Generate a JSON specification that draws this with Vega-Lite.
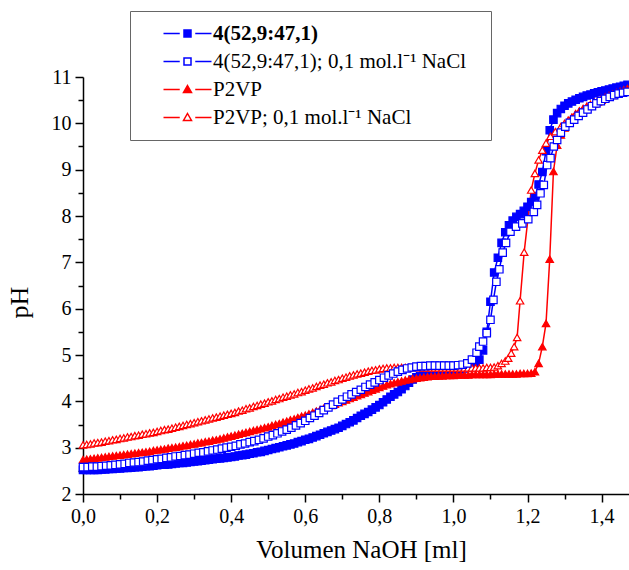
{
"$schema": "https://vega.github.io/schema/vega-lite/v6.json",
"width": 546, "height": 417,
"autosize": {"type": "none"},
"padding": {"left": 83, "top": 77, "right": 0, "bottom": 76},
"background": "white",
"config": {"view": {"stroke": null}, "font": "Liberation Serif"},
"data": {"values": [
{"s":"A","x":0,"y":2.52},{"s":"A","x":0.01,"y":2.52},{"s":"A","x":0.02,"y":2.52},{"s":"A","x":0.03,"y":2.52},{"s":"A","x":0.04,"y":2.52},{"s":"A","x":0.05,"y":2.53},{"s":"A","x":0.06,"y":2.53},{"s":"A","x":0.07,"y":2.54},{"s":"A","x":0.08,"y":2.54},{"s":"A","x":0.09,"y":2.55},
{"s":"A","x":0.1,"y":2.55},{"s":"A","x":0.11,"y":2.56},{"s":"A","x":0.12,"y":2.56},{"s":"A","x":0.13,"y":2.57},{"s":"A","x":0.14,"y":2.58},{"s":"A","x":0.15,"y":2.58},{"s":"A","x":0.16,"y":2.59},{"s":"A","x":0.17,"y":2.6},{"s":"A","x":0.18,"y":2.6},{"s":"A","x":0.19,"y":2.61},
{"s":"A","x":0.2,"y":2.62},{"s":"A","x":0.21,"y":2.63},{"s":"A","x":0.22,"y":2.63},{"s":"A","x":0.23,"y":2.64},{"s":"A","x":0.24,"y":2.65},{"s":"A","x":0.25,"y":2.66},{"s":"A","x":0.26,"y":2.67},{"s":"A","x":0.27,"y":2.67},{"s":"A","x":0.28,"y":2.68},{"s":"A","x":0.29,"y":2.69},
{"s":"A","x":0.3,"y":2.7},{"s":"A","x":0.31,"y":2.71},{"s":"A","x":0.32,"y":2.72},{"s":"A","x":0.33,"y":2.73},{"s":"A","x":0.34,"y":2.74},{"s":"A","x":0.35,"y":2.75},{"s":"A","x":0.36,"y":2.76},{"s":"A","x":0.37,"y":2.77},{"s":"A","x":0.38,"y":2.78},{"s":"A","x":0.39,"y":2.79},
{"s":"A","x":0.4,"y":2.8},{"s":"A","x":0.41,"y":2.81},{"s":"A","x":0.42,"y":2.83},{"s":"A","x":0.43,"y":2.84},{"s":"A","x":0.44,"y":2.85},{"s":"A","x":0.45,"y":2.87},{"s":"A","x":0.46,"y":2.88},{"s":"A","x":0.47,"y":2.9},{"s":"A","x":0.48,"y":2.91},{"s":"A","x":0.49,"y":2.93},
{"s":"A","x":0.5,"y":2.95},{"s":"A","x":0.51,"y":2.97},{"s":"A","x":0.52,"y":2.99},{"s":"A","x":0.53,"y":3.01},{"s":"A","x":0.54,"y":3.03},{"s":"A","x":0.55,"y":3.05},{"s":"A","x":0.56,"y":3.07},{"s":"A","x":0.57,"y":3.09},{"s":"A","x":0.58,"y":3.12},{"s":"A","x":0.59,"y":3.14},
{"s":"A","x":0.6,"y":3.17},{"s":"A","x":0.61,"y":3.19},{"s":"A","x":0.62,"y":3.22},{"s":"A","x":0.63,"y":3.25},{"s":"A","x":0.64,"y":3.28},{"s":"A","x":0.65,"y":3.31},{"s":"A","x":0.66,"y":3.34},{"s":"A","x":0.67,"y":3.37},{"s":"A","x":0.68,"y":3.4},{"s":"A","x":0.69,"y":3.43},
{"s":"A","x":0.7,"y":3.47},{"s":"A","x":0.71,"y":3.51},{"s":"A","x":0.72,"y":3.55},{"s":"A","x":0.73,"y":3.59},{"s":"A","x":0.74,"y":3.64},{"s":"A","x":0.75,"y":3.69},{"s":"A","x":0.76,"y":3.73},{"s":"A","x":0.77,"y":3.77},{"s":"A","x":0.78,"y":3.82},{"s":"A","x":0.79,"y":3.87},
{"s":"A","x":0.8,"y":3.92},{"s":"A","x":0.81,"y":3.98},{"s":"A","x":0.82,"y":4.04},{"s":"A","x":0.83,"y":4.1},{"s":"A","x":0.84,"y":4.15},{"s":"A","x":0.85,"y":4.2},{"s":"A","x":0.86,"y":4.26},{"s":"A","x":0.87,"y":4.33},{"s":"A","x":0.88,"y":4.4},{"s":"A","x":0.89,"y":4.47},
{"s":"A","x":0.9,"y":4.52},{"s":"A","x":0.91,"y":4.55},{"s":"A","x":0.92,"y":4.57},{"s":"A","x":0.93,"y":4.59},{"s":"A","x":0.94,"y":4.6},{"s":"A","x":0.95,"y":4.61},{"s":"A","x":0.96,"y":4.62},{"s":"A","x":0.97,"y":4.63},{"s":"A","x":0.98,"y":4.64},{"s":"A","x":0.99,"y":4.65},
{"s":"A","x":1,"y":4.66},{"s":"A","x":1.01,"y":4.67},{"s":"A","x":1.02,"y":4.69},{"s":"A","x":1.03,"y":4.71},{"s":"A","x":1.04,"y":4.73},{"s":"A","x":1.05,"y":4.77},{"s":"A","x":1.06,"y":4.82},{"s":"A","x":1.07,"y":4.9},{"s":"A","x":1.08,"y":5.1},{"s":"A","x":1.09,"y":5.5},
{"s":"A","x":1.1,"y":6.15},{"s":"A","x":1.11,"y":6.78},{"s":"A","x":1.12,"y":7.1},{"s":"A","x":1.13,"y":7.42},{"s":"A","x":1.14,"y":7.65},{"s":"A","x":1.15,"y":7.8},{"s":"A","x":1.16,"y":7.9},{"s":"A","x":1.17,"y":7.98},{"s":"A","x":1.18,"y":8.04},{"s":"A","x":1.19,"y":8.11},
{"s":"A","x":1.2,"y":8.2},{"s":"A","x":1.21,"y":8.3},{"s":"A","x":1.22,"y":8.42},{"s":"A","x":1.23,"y":8.68},{"s":"A","x":1.24,"y":8.95},{"s":"A","x":1.25,"y":9.4},{"s":"A","x":1.26,"y":9.85},{"s":"A","x":1.27,"y":10.08},{"s":"A","x":1.28,"y":10.22},{"s":"A","x":1.29,"y":10.31},
{"s":"A","x":1.3,"y":10.38},{"s":"A","x":1.31,"y":10.43},{"s":"A","x":1.32,"y":10.47},{"s":"A","x":1.33,"y":10.51},{"s":"A","x":1.34,"y":10.54},{"s":"A","x":1.35,"y":10.57},{"s":"A","x":1.36,"y":10.6},{"s":"A","x":1.37,"y":10.62},{"s":"A","x":1.38,"y":10.65},{"s":"A","x":1.39,"y":10.67},
{"s":"A","x":1.4,"y":10.69},{"s":"A","x":1.41,"y":10.71},{"s":"A","x":1.42,"y":10.73},{"s":"A","x":1.43,"y":10.75},{"s":"A","x":1.44,"y":10.77},{"s":"A","x":1.45,"y":10.79},{"s":"A","x":1.46,"y":10.81},{"s":"A","x":1.47,"y":10.83},
{"s":"C","x":0,"y":2.74},{"s":"C","x":0.01,"y":2.75},{"s":"C","x":0.02,"y":2.76},{"s":"C","x":0.03,"y":2.77},{"s":"C","x":0.04,"y":2.78},{"s":"C","x":0.05,"y":2.79},{"s":"C","x":0.06,"y":2.8},{"s":"C","x":0.07,"y":2.81},{"s":"C","x":0.08,"y":2.82},{"s":"C","x":0.09,"y":2.83},
{"s":"C","x":0.1,"y":2.84},{"s":"C","x":0.11,"y":2.85},{"s":"C","x":0.12,"y":2.86},{"s":"C","x":0.13,"y":2.87},{"s":"C","x":0.14,"y":2.88},{"s":"C","x":0.15,"y":2.89},{"s":"C","x":0.16,"y":2.9},{"s":"C","x":0.17,"y":2.91},{"s":"C","x":0.18,"y":2.92},{"s":"C","x":0.19,"y":2.94},
{"s":"C","x":0.2,"y":2.95},{"s":"C","x":0.21,"y":2.96},{"s":"C","x":0.22,"y":2.97},{"s":"C","x":0.23,"y":2.99},{"s":"C","x":0.24,"y":3},{"s":"C","x":0.25,"y":3.01},{"s":"C","x":0.26,"y":3.02},{"s":"C","x":0.27,"y":3.04},{"s":"C","x":0.28,"y":3.05},{"s":"C","x":0.29,"y":3.07},
{"s":"C","x":0.3,"y":3.08},{"s":"C","x":0.31,"y":3.1},{"s":"C","x":0.32,"y":3.11},{"s":"C","x":0.33,"y":3.13},{"s":"C","x":0.34,"y":3.14},{"s":"C","x":0.35,"y":3.16},{"s":"C","x":0.36,"y":3.17},{"s":"C","x":0.37,"y":3.19},{"s":"C","x":0.38,"y":3.21},{"s":"C","x":0.39,"y":3.23},
{"s":"C","x":0.4,"y":3.25},{"s":"C","x":0.41,"y":3.27},{"s":"C","x":0.42,"y":3.29},{"s":"C","x":0.43,"y":3.31},{"s":"C","x":0.44,"y":3.33},{"s":"C","x":0.45,"y":3.35},{"s":"C","x":0.46,"y":3.37},{"s":"C","x":0.47,"y":3.39},{"s":"C","x":0.48,"y":3.41},{"s":"C","x":0.49,"y":3.43},
{"s":"C","x":0.5,"y":3.45},{"s":"C","x":0.51,"y":3.48},{"s":"C","x":0.52,"y":3.5},{"s":"C","x":0.53,"y":3.52},{"s":"C","x":0.54,"y":3.55},{"s":"C","x":0.55,"y":3.57},{"s":"C","x":0.56,"y":3.6},{"s":"C","x":0.57,"y":3.62},{"s":"C","x":0.58,"y":3.65},{"s":"C","x":0.59,"y":3.68},
{"s":"C","x":0.6,"y":3.7},{"s":"C","x":0.61,"y":3.73},{"s":"C","x":0.62,"y":3.76},{"s":"C","x":0.63,"y":3.79},{"s":"C","x":0.64,"y":3.82},{"s":"C","x":0.65,"y":3.85},{"s":"C","x":0.66,"y":3.88},{"s":"C","x":0.67,"y":3.91},{"s":"C","x":0.68,"y":3.94},{"s":"C","x":0.69,"y":3.97},
{"s":"C","x":0.7,"y":4},{"s":"C","x":0.71,"y":4.03},{"s":"C","x":0.72,"y":4.06},{"s":"C","x":0.73,"y":4.09},{"s":"C","x":0.74,"y":4.12},{"s":"C","x":0.75,"y":4.15},{"s":"C","x":0.76,"y":4.18},{"s":"C","x":0.77,"y":4.21},{"s":"C","x":0.78,"y":4.24},{"s":"C","x":0.79,"y":4.27},
{"s":"C","x":0.8,"y":4.3},{"s":"C","x":0.81,"y":4.33},{"s":"C","x":0.82,"y":4.36},{"s":"C","x":0.83,"y":4.38},{"s":"C","x":0.84,"y":4.4},{"s":"C","x":0.85,"y":4.42},{"s":"C","x":0.86,"y":4.44},{"s":"C","x":0.87,"y":4.46},{"s":"C","x":0.88,"y":4.47},{"s":"C","x":0.89,"y":4.49},
{"s":"C","x":0.9,"y":4.5},{"s":"C","x":0.91,"y":4.51},{"s":"C","x":0.92,"y":4.52},{"s":"C","x":0.93,"y":4.53},{"s":"C","x":0.94,"y":4.54},{"s":"C","x":0.95,"y":4.54},{"s":"C","x":0.96,"y":4.55},{"s":"C","x":0.97,"y":4.55},{"s":"C","x":0.98,"y":4.56},{"s":"C","x":0.99,"y":4.56},
{"s":"C","x":1,"y":4.56},{"s":"C","x":1.01,"y":4.57},{"s":"C","x":1.02,"y":4.57},{"s":"C","x":1.03,"y":4.57},{"s":"C","x":1.04,"y":4.57},{"s":"C","x":1.05,"y":4.58},{"s":"C","x":1.06,"y":4.58},{"s":"C","x":1.07,"y":4.58},{"s":"C","x":1.08,"y":4.58},{"s":"C","x":1.09,"y":4.58},
{"s":"C","x":1.1,"y":4.58},{"s":"C","x":1.11,"y":4.59},{"s":"C","x":1.12,"y":4.59},{"s":"C","x":1.13,"y":4.59},{"s":"C","x":1.14,"y":4.59},{"s":"C","x":1.15,"y":4.59},{"s":"C","x":1.16,"y":4.59},{"s":"C","x":1.17,"y":4.59},{"s":"C","x":1.18,"y":4.6},{"s":"C","x":1.19,"y":4.6},
{"s":"C","x":1.2,"y":4.6},{"s":"C","x":1.21,"y":4.61},{"s":"C","x":1.22,"y":4.64},{"s":"C","x":1.23,"y":4.82},{"s":"C","x":1.24,"y":5.18},{"s":"C","x":1.25,"y":5.68},{"s":"C","x":1.26,"y":7.07},{"s":"C","x":1.27,"y":8.96},{"s":"C","x":1.28,"y":9.53},{"s":"C","x":1.29,"y":9.75},
{"s":"C","x":1.3,"y":9.9},{"s":"C","x":1.31,"y":10.03},{"s":"C","x":1.32,"y":10.13},{"s":"C","x":1.33,"y":10.21},{"s":"C","x":1.34,"y":10.27},{"s":"C","x":1.35,"y":10.32},{"s":"C","x":1.36,"y":10.37},{"s":"C","x":1.37,"y":10.41},{"s":"C","x":1.38,"y":10.45},{"s":"C","x":1.39,"y":10.49},
{"s":"C","x":1.4,"y":10.53},{"s":"C","x":1.41,"y":10.57},{"s":"C","x":1.42,"y":10.6},{"s":"C","x":1.43,"y":10.63},{"s":"C","x":1.44,"y":10.66},{"s":"C","x":1.45,"y":10.69},{"s":"C","x":1.46,"y":10.72},{"s":"C","x":1.47,"y":10.75},
{"s":"D","x":0,"y":3.06},{"s":"D","x":0.01,"y":3.07},{"s":"D","x":0.02,"y":3.08},{"s":"D","x":0.03,"y":3.1},{"s":"D","x":0.04,"y":3.11},{"s":"D","x":0.05,"y":3.12},{"s":"D","x":0.06,"y":3.14},{"s":"D","x":0.07,"y":3.15},{"s":"D","x":0.08,"y":3.17},{"s":"D","x":0.09,"y":3.18},
{"s":"D","x":0.1,"y":3.2},{"s":"D","x":0.11,"y":3.21},{"s":"D","x":0.12,"y":3.23},{"s":"D","x":0.13,"y":3.24},{"s":"D","x":0.14,"y":3.26},{"s":"D","x":0.15,"y":3.27},{"s":"D","x":0.16,"y":3.29},{"s":"D","x":0.17,"y":3.3},{"s":"D","x":0.18,"y":3.32},{"s":"D","x":0.19,"y":3.33},
{"s":"D","x":0.2,"y":3.35},{"s":"D","x":0.21,"y":3.37},{"s":"D","x":0.22,"y":3.39},{"s":"D","x":0.23,"y":3.4},{"s":"D","x":0.24,"y":3.42},{"s":"D","x":0.25,"y":3.44},{"s":"D","x":0.26,"y":3.46},{"s":"D","x":0.27,"y":3.48},{"s":"D","x":0.28,"y":3.5},{"s":"D","x":0.29,"y":3.52},
{"s":"D","x":0.3,"y":3.54},{"s":"D","x":0.31,"y":3.56},{"s":"D","x":0.32,"y":3.58},{"s":"D","x":0.33,"y":3.6},{"s":"D","x":0.34,"y":3.62},{"s":"D","x":0.35,"y":3.64},{"s":"D","x":0.36,"y":3.66},{"s":"D","x":0.37,"y":3.68},{"s":"D","x":0.38,"y":3.7},{"s":"D","x":0.39,"y":3.72},
{"s":"D","x":0.4,"y":3.74},{"s":"D","x":0.41,"y":3.76},{"s":"D","x":0.42,"y":3.79},{"s":"D","x":0.43,"y":3.81},{"s":"D","x":0.44,"y":3.84},{"s":"D","x":0.45,"y":3.86},{"s":"D","x":0.46,"y":3.89},{"s":"D","x":0.47,"y":3.91},{"s":"D","x":0.48,"y":3.94},{"s":"D","x":0.49,"y":3.96},
{"s":"D","x":0.5,"y":3.99},{"s":"D","x":0.51,"y":4.01},{"s":"D","x":0.52,"y":4.04},{"s":"D","x":0.53,"y":4.06},{"s":"D","x":0.54,"y":4.09},{"s":"D","x":0.55,"y":4.11},{"s":"D","x":0.56,"y":4.14},{"s":"D","x":0.57,"y":4.16},{"s":"D","x":0.58,"y":4.19},{"s":"D","x":0.59,"y":4.21},
{"s":"D","x":0.6,"y":4.24},{"s":"D","x":0.61,"y":4.27},{"s":"D","x":0.62,"y":4.29},{"s":"D","x":0.63,"y":4.32},{"s":"D","x":0.64,"y":4.35},{"s":"D","x":0.65,"y":4.37},{"s":"D","x":0.66,"y":4.4},{"s":"D","x":0.67,"y":4.42},{"s":"D","x":0.68,"y":4.45},{"s":"D","x":0.69,"y":4.47},
{"s":"D","x":0.7,"y":4.5},{"s":"D","x":0.71,"y":4.52},{"s":"D","x":0.72,"y":4.55},{"s":"D","x":0.73,"y":4.57},{"s":"D","x":0.74,"y":4.59},{"s":"D","x":0.75,"y":4.61},{"s":"D","x":0.76,"y":4.63},{"s":"D","x":0.77,"y":4.65},{"s":"D","x":0.78,"y":4.67},{"s":"D","x":0.79,"y":4.68},
{"s":"D","x":0.8,"y":4.7},{"s":"D","x":0.81,"y":4.71},{"s":"D","x":0.82,"y":4.72},{"s":"D","x":0.83,"y":4.72},{"s":"D","x":0.84,"y":4.73},{"s":"D","x":0.85,"y":4.73},{"s":"D","x":0.86,"y":4.73},{"s":"D","x":0.87,"y":4.73},{"s":"D","x":0.88,"y":4.73},{"s":"D","x":0.89,"y":4.73},
{"s":"D","x":0.9,"y":4.73},{"s":"D","x":0.91,"y":4.73},{"s":"D","x":0.92,"y":4.72},{"s":"D","x":0.93,"y":4.72},{"s":"D","x":0.94,"y":4.72},{"s":"D","x":0.95,"y":4.72},{"s":"D","x":0.96,"y":4.72},{"s":"D","x":0.97,"y":4.72},{"s":"D","x":0.98,"y":4.72},{"s":"D","x":0.99,"y":4.72},
{"s":"D","x":1,"y":4.72},{"s":"D","x":1.01,"y":4.72},{"s":"D","x":1.02,"y":4.72},{"s":"D","x":1.03,"y":4.72},{"s":"D","x":1.04,"y":4.72},{"s":"D","x":1.05,"y":4.72},{"s":"D","x":1.06,"y":4.72},{"s":"D","x":1.07,"y":4.72},{"s":"D","x":1.08,"y":4.72},{"s":"D","x":1.09,"y":4.73},
{"s":"D","x":1.1,"y":4.73},{"s":"D","x":1.11,"y":4.74},{"s":"D","x":1.12,"y":4.77},{"s":"D","x":1.13,"y":4.82},{"s":"D","x":1.14,"y":4.87},{"s":"D","x":1.148,"y":4.93},{"s":"D","x":1.156,"y":5.04},{"s":"D","x":1.164,"y":5.18},{"s":"D","x":1.172,"y":5.38},{"s":"D","x":1.18,"y":6.17},
{"s":"D","x":1.191,"y":7.22},{"s":"D","x":1.21,"y":8.56},{"s":"D","x":1.22,"y":8.92},{"s":"D","x":1.23,"y":9.21},{"s":"D","x":1.24,"y":9.42},{"s":"D","x":1.25,"y":9.57},{"s":"D","x":1.262,"y":9.72},{"s":"D","x":1.275,"y":9.82},{"s":"D","x":1.29,"y":9.93},{"s":"D","x":1.3,"y":10},
{"s":"D","x":1.31,"y":10.07},{"s":"D","x":1.32,"y":10.13},{"s":"D","x":1.33,"y":10.19},{"s":"D","x":1.34,"y":10.24},{"s":"D","x":1.35,"y":10.29},{"s":"D","x":1.36,"y":10.34},{"s":"D","x":1.37,"y":10.38},{"s":"D","x":1.38,"y":10.42},{"s":"D","x":1.39,"y":10.46},{"s":"D","x":1.4,"y":10.5},
{"s":"D","x":1.41,"y":10.54},{"s":"D","x":1.42,"y":10.57},{"s":"D","x":1.43,"y":10.6},{"s":"D","x":1.44,"y":10.63},{"s":"D","x":1.45,"y":10.66},{"s":"D","x":1.46,"y":10.69},{"s":"D","x":1.47,"y":10.71},
{"s":"B","x":0,"y":2.58},{"s":"B","x":0.0125,"y":2.58},{"s":"B","x":0.025,"y":2.59},{"s":"B","x":0.0375,"y":2.59},{"s":"B","x":0.05,"y":2.6},{"s":"B","x":0.0625,"y":2.61},{"s":"B","x":0.075,"y":2.62},{"s":"B","x":0.0875,"y":2.63},
{"s":"B","x":0.1,"y":2.64},{"s":"B","x":0.1125,"y":2.65},{"s":"B","x":0.125,"y":2.67},{"s":"B","x":0.1375,"y":2.68},{"s":"B","x":0.15,"y":2.69},{"s":"B","x":0.1625,"y":2.7},{"s":"B","x":0.175,"y":2.72},{"s":"B","x":0.1875,"y":2.73},
{"s":"B","x":0.2,"y":2.75},{"s":"B","x":0.2125,"y":2.76},{"s":"B","x":0.225,"y":2.78},{"s":"B","x":0.2375,"y":2.79},{"s":"B","x":0.25,"y":2.81},{"s":"B","x":0.2625,"y":2.82},{"s":"B","x":0.275,"y":2.84},{"s":"B","x":0.2875,"y":2.85},
{"s":"B","x":0.3,"y":2.87},{"s":"B","x":0.3125,"y":2.89},{"s":"B","x":0.325,"y":2.9},{"s":"B","x":0.3375,"y":2.92},{"s":"B","x":0.35,"y":2.94},{"s":"B","x":0.3625,"y":2.96},{"s":"B","x":0.375,"y":2.98},{"s":"B","x":0.3875,"y":3},
{"s":"B","x":0.4,"y":3.02},{"s":"B","x":0.4125,"y":3.04},{"s":"B","x":0.425,"y":3.07},{"s":"B","x":0.4375,"y":3.09},{"s":"B","x":0.45,"y":3.12},{"s":"B","x":0.4625,"y":3.14},{"s":"B","x":0.475,"y":3.17},{"s":"B","x":0.4875,"y":3.2},
{"s":"B","x":0.5,"y":3.24},{"s":"B","x":0.5125,"y":3.27},{"s":"B","x":0.525,"y":3.31},{"s":"B","x":0.5375,"y":3.35},{"s":"B","x":0.55,"y":3.39},{"s":"B","x":0.5625,"y":3.43},{"s":"B","x":0.575,"y":3.48},{"s":"B","x":0.5875,"y":3.53},
{"s":"B","x":0.6,"y":3.58},{"s":"B","x":0.6125,"y":3.64},{"s":"B","x":0.625,"y":3.69},{"s":"B","x":0.6375,"y":3.75},{"s":"B","x":0.65,"y":3.81},{"s":"B","x":0.6625,"y":3.87},{"s":"B","x":0.675,"y":3.93},{"s":"B","x":0.6875,"y":3.99},
{"s":"B","x":0.7,"y":4.04},{"s":"B","x":0.7125,"y":4.1},{"s":"B","x":0.725,"y":4.15},{"s":"B","x":0.7375,"y":4.2},{"s":"B","x":0.75,"y":4.25},{"s":"B","x":0.7625,"y":4.31},{"s":"B","x":0.775,"y":4.36},{"s":"B","x":0.7875,"y":4.41},
{"s":"B","x":0.8,"y":4.46},{"s":"B","x":0.8125,"y":4.51},{"s":"B","x":0.825,"y":4.56},{"s":"B","x":0.8375,"y":4.6},{"s":"B","x":0.85,"y":4.64},{"s":"B","x":0.8625,"y":4.68},{"s":"B","x":0.875,"y":4.71},{"s":"B","x":0.8875,"y":4.73},
{"s":"B","x":0.9,"y":4.75},{"s":"B","x":0.9125,"y":4.76},{"s":"B","x":0.925,"y":4.76},{"s":"B","x":0.9375,"y":4.77},{"s":"B","x":0.95,"y":4.77},{"s":"B","x":0.9625,"y":4.77},{"s":"B","x":0.975,"y":4.77},{"s":"B","x":0.9875,"y":4.77},
{"s":"B","x":1,"y":4.77},{"s":"B","x":1.0125,"y":4.78},{"s":"B","x":1.025,"y":4.79},{"s":"B","x":1.0375,"y":4.82},{"s":"B","x":1.05,"y":4.9},{"s":"B","x":1.0625,"y":5.05},{"s":"B","x":1.07,"y":5.18},{"s":"B","x":1.08,"y":5.29},
{"s":"B","x":1.09,"y":5.47},{"s":"B","x":1.1,"y":5.76},{"s":"B","x":1.108,"y":6.19},{"s":"B","x":1.116,"y":6.58},{"s":"B","x":1.124,"y":6.85},{"s":"B","x":1.133,"y":7.21},{"s":"B","x":1.142,"y":7.42},{"s":"B","x":1.154,"y":7.66},
{"s":"B","x":1.169,"y":7.77},{"s":"B","x":1.186,"y":7.84},{"s":"B","x":1.202,"y":7.93},{"s":"B","x":1.217,"y":8.09},{"s":"B","x":1.226,"y":8.24},{"s":"B","x":1.235,"y":8.49},{"s":"B","x":1.244,"y":8.67},{"s":"B","x":1.253,"y":9.1},
{"s":"B","x":1.262,"y":9.25},{"s":"B","x":1.271,"y":9.5},{"s":"B","x":1.28,"y":9.64},{"s":"B","x":1.29,"y":9.8},{"s":"B","x":1.302,"y":9.93},{"s":"B","x":1.314,"y":10.01},{"s":"B","x":1.326,"y":10.08},{"s":"B","x":1.338,"y":10.16},
{"s":"B","x":1.35,"y":10.23},{"s":"B","x":1.362,"y":10.3},{"s":"B","x":1.374,"y":10.37},{"s":"B","x":1.386,"y":10.43},{"s":"B","x":1.398,"y":10.48},{"s":"B","x":1.41,"y":10.53},{"s":"B","x":1.422,"y":10.57},{"s":"B","x":1.434,"y":10.61},
{"s":"B","x":1.446,"y":10.64},{"s":"B","x":1.458,"y":10.66},{"s":"B","x":1.47,"y":10.68}
]},
"resolve": {"axis": {"x": "independent", "y": "independent"}, "legend": {"stroke": "independent", "fill": "independent", "shape": "independent"}},
"layer": [
{
 "mark": {"type": "line", "strokeWidth": 1.5},
 "encoding": {
  "x": {"field": "x", "type": "quantitative", "scale": {"domain": [0, 1.474], "nice": false, "zero": false},
        "axis": {"orient": "bottom", "values": [0.1,0.3,0.5,0.7,0.9,1.1,1.3], "labels": false, "domain": false, "grid": false, "title": null, "tickSize": 5, "tickWidth": 1.5, "tickColor": "black"}},
  "y": {"field": "y", "type": "quantitative", "scale": {"domain": [2, 11], "nice": false, "zero": false},
        "axis": {"orient": "left", "values": [2.5,3.5,4.5,5.5,6.5,7.5,8.5,9.5,10.5], "labels": false, "domain": false, "grid": false, "title": null, "tickSize": 5, "tickWidth": 1.5, "tickColor": "black"}},
  "stroke": {"field": "s", "type": "nominal", "scale": {"domain": ["A","B","C","D"], "range": ["#0000ff","#0000ff","#ff0000","#ff0000"]},
    "legend": {
      "orient": "none", "legendX": 47, "legendY": -66, "title": "\u00a0", "titleOrient": "right", "titlePadding": 13, "titleFontSize": 8, "titleColor": "white",
      "padding": 12, "strokeColor": "#666666", "fillColor": "white",
      "labelFont": "Liberation Serif", "labelFontSize": 21, "labelColor": "black", "labelLimit": 400,
      "symbolSize": 100, "symbolStrokeWidth": 1.5, "rowPadding": 6,
      "symbolOffset": 35, "labelOffset": 15,
      "labelExpr": "datum.label == 'A' ? '4(52,9:47,1)' : datum.label == 'B' ? '4(52,9:47,1); 0,1 mol.l⁻¹ NaCl' : datum.label == 'C' ? 'P2VP' : 'P2VP; 0,1 mol.l⁻¹ NaCl'",
      "encode": {
        "symbols": {"update": {
          "shape": {"signal": "datum.value == 'A' || datum.value == 'B' ? 'M-4.8,0H-1.55M-0.7,-0.7H0.7V0.7H-0.7ZM1.55,0H4.8' : 'M-4.8,0H-1.55M0,-0.8L0.8,0.6H-0.8ZM1.55,0H4.8'"},
          "fill": {"signal": "datum.value == 'A' ? '#0000ff' : datum.value == 'C' ? '#ff0000' : '#ffffff'"}
        }},
        "labels": {"update": {"fontWeight": {"signal": "datum.value == 'A' ? 'bold' : 'normal'"}}}
      }
    }}
 }
},
{
 "mark": {"type": "point", "filled": true, "size": 55, "strokeWidth": 1.2, "opacity": 1},
 "encoding": {
  "x": {"field": "x", "type": "quantitative",
        "axis": {"orient": "bottom", "values": [0,0.2,0.4,0.6,0.8,1,1.2,1.4], "labelExpr": "replace(format(datum.value, '.1f'), '.', ',')",
                 "grid": false, "tickSize": 8, "tickWidth": 1.5, "tickColor": "black", "domainColor": "black", "domainWidth": 1.5,
                 "labelFlush": false, "labelOverlap": false,
                 "labelFont": "Liberation Serif", "labelFontSize": 20, "labelColor": "black", "labelPadding": 4,
                 "title": "Volumen NaOH [ml]", "titleFont": "Liberation Serif", "titleFontSize": 25, "titleFontWeight": "normal", "titleColor": "black", "titlePadding": 11, "titleX": 278}},
  "y": {"field": "y", "type": "quantitative",
        "axis": {"orient": "left", "values": [2,3,4,5,6,7,8,9,10,11],
                 "grid": false, "tickSize": 8, "tickWidth": 1.5, "tickColor": "black", "domainColor": "black", "domainWidth": 1.5,
                 "labelFlush": false, "labelOverlap": false,
                 "labelFont": "Liberation Serif", "labelFontSize": 20, "labelColor": "black", "labelPadding": 4,
                 "title": "pH", "titleFont": "Liberation Serif", "titleFontSize": 26, "titleFontWeight": "normal", "titleColor": "black", "titleX": -64, "titleY": 225, "titleAlign": "center", "titleBaseline": "middle"}},
  "stroke": {"field": "s", "type": "nominal", "scale": {"domain": ["A","B","C","D"], "range": ["#0000ff","#0000ff","#ff0000","#ff0000"]}, "legend": null},
  "fill": {"field": "s", "type": "nominal", "scale": {"domain": ["A","B","C","D"], "range": ["#0000ff","#ffffff","#ff0000","#ffffff"]}, "legend": null},
  "shape": {"field": "s", "type": "nominal", "scale": {"domain": ["A","B","C","D"], "range": ["square","square","triangle-up","triangle-up"]}, "legend": null}
 }
}
]
}
